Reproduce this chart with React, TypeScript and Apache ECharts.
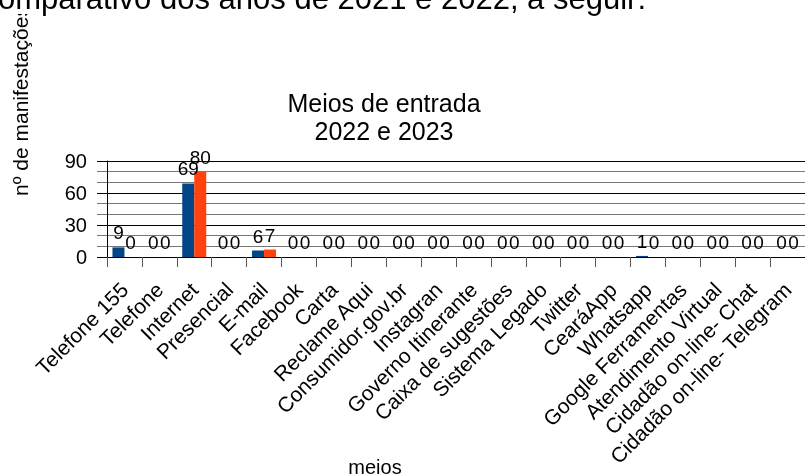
import React, { useEffect, useRef } from "react";
import * as echarts from "echarts";

const categories = [
  "Telefone 155",
  "Telefone",
  "Internet",
  "Presencial",
  "E-mail",
  "Facebook",
  "Carta",
  "Reclame Aqui",
  "Consumidor.gov.br",
  "Instagran",
  "Governo Itinerante",
  "Caixa de sugestões",
  "Sistema Legado",
  "Twitter",
  "CearáApp",
  "Whatsapp",
  "Google Ferramentas",
  "Atendimento Virtual",
  "Cidadão on-line- Chat",
  "Cidadão on-line- Telegram",
];
const values2022 = [9, 0, 69, 0, 6, 0, 0, 0, 0, 0, 0, 0, 0, 0, 0, 1, 0, 0, 0, 0];
const values2023 = [0, 0, 80, 0, 7, 0, 0, 0, 0, 0, 0, 0, 0, 0, 0, 0, 0, 0, 0, 0];
const seriesNames = ["2022", "2023"];
const yTicks = { min: 0, max: 90, interval: 30 };

const FONT = "'Liberation Sans', Arial, sans-serif";

export default function App() {
  const ref = useRef<HTMLDivElement>(null);
  useEffect(() => {
    if (!ref.current) return;
    const chart = echarts.init(ref.current, undefined, { renderer: "svg" });
    const label = {
      show: true,
      position: "top",
      distance: 5,
      color: "#000",
      fontSize: 19,
      fontFamily: FONT,
    };
    chart.setOption({
      animation: false,
      textStyle: { fontFamily: FONT },
      grid: { left: 107, top: 161, width: 710, bottom: 219, containLabel: false },
      xAxis: {
        type: "category",
        data: categories,
        axisLine: { show: true, lineStyle: { color: "#000", width: 1 } },
        axisTick: { show: true, length: 10, lineStyle: { color: "#555" } },
        axisLabel: {
          interval: 0,
          rotate: 45,
          margin: 29,
          color: "#000",
          fontSize: 21,
          fontFamily: FONT,
        },
        splitLine: { show: false },
      },
      yAxis: {
        type: "value",
        min: yTicks.min,
        max: yTicks.max,
        interval: yTicks.interval,
        axisLine: { show: true, lineStyle: { color: "#000", width: 1 } },
        axisTick: { show: true, length: 10, lineStyle: { color: "#000" } },
        minorTick: { show: true, splitNumber: 3, length: 10, lineStyle: { color: "#777" } },
        axisLabel: { margin: 20, color: "#000", fontSize: 20, fontFamily: FONT },
        splitLine: { show: true, lineStyle: { color: "#000", width: 1 } },
        minorSplitLine: { show: true, lineStyle: { color: "#777", width: 1 } },
      },
      series: [
        {
          name: seriesNames[0],
          type: "bar",
          data: values2022,
          barWidth: 12,
          barGap: "0%",
          itemStyle: { color: "#004586" },
          label,
        },
        {
          name: seriesNames[1],
          type: "bar",
          data: values2023,
          barWidth: 12,
          barGap: "0%",
          itemStyle: { color: "#ff420e" },
          label,
        },
      ],
      graphic: [
        {
          type: "text",
          z: 1,
          x: 20,
          y: 101,
          rotation: Math.PI / 2,
          style: {
            text: "nº de manifestações",
            font: `21px ${FONT}`,
            fill: "#000",
            textAlign: "center",
            textVerticalAlign: "middle",
          },
        },
        {
          type: "rect",
          z: 10,
          shape: { x: 0, y: 0, width: 805, height: 14 },
          style: { fill: "#fff" },
        },
        {
          type: "text",
          z: 11,
          x: -2,
          y: -2,
          style: {
            text: "omparativo dos anos de 2021 e 2022, a seguir:",
            font: `31px ${FONT}`,
            fill: "#000",
            textAlign: "left",
            textVerticalAlign: "middle",
          },
        },
        {
          type: "text",
          z: 5,
          x: 384,
          y: 89,
          style: {
            text: "Meios de entrada\n2022 e 2023",
            font: `25px ${FONT}`,
            lineHeight: 28,
            fill: "#000",
            textAlign: "center",
            textVerticalAlign: "top",
          },
        },
        {
          type: "text",
          z: 5,
          x: 375,
          y: 467,
          style: {
            text: "meios",
            font: `20px ${FONT}`,
            fill: "#000",
            textAlign: "center",
            textVerticalAlign: "middle",
          },
        },
      ],
    });
    return () => chart.dispose();
  }, []);
  return (
    <div
      ref={ref}
      style={{ position: "fixed", left: 0, top: 0, width: 805, height: 476 }}
    />
  );
}
